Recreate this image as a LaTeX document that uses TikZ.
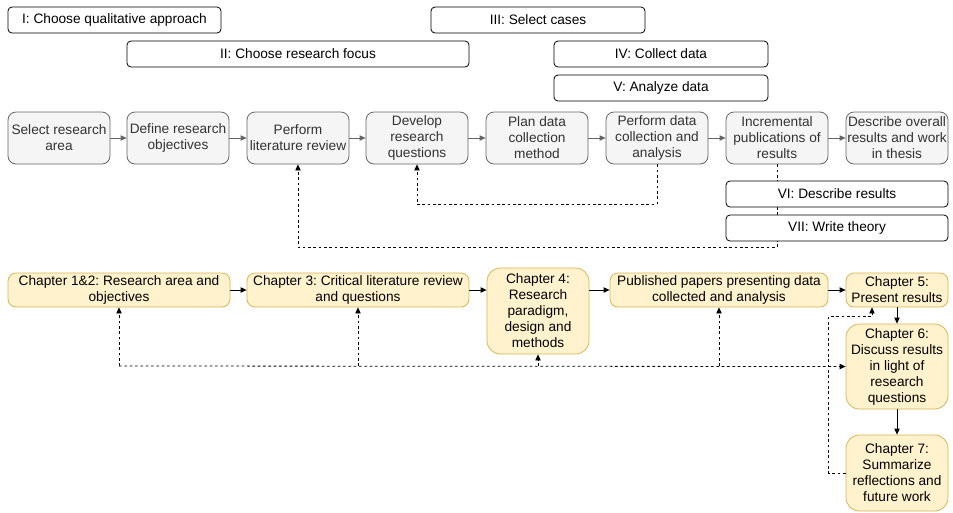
\documentclass[tikz,border=0pt]{standalone}
\usepackage{fontspec}
\setmainfont{Liberation Sans}
\usetikzlibrary{arrows.meta,calc}
\frenchspacing
\definecolor{gfill}{HTML}{F5F5F5}
\definecolor{gline}{HTML}{666666}
\definecolor{gtext}{HTML}{333333}
\definecolor{yfill}{HTML}{FFF2CC}
\definecolor{yline}{HTML}{D6B656}
\newcommand\mybox[7]{%
  \node[#1, minimum width={(#5-#3)*0.75pt}, minimum height={(#6-#4)*0.75pt}]
        (#2) at ({(#3+#5)/2},{(#4+#6)/2}) {#7};}
\tikzset{
  base/.style={draw, inner sep=0pt, align=center, font=\fontsize{10.25}{12}\selectfont\frenchspacing, line width=0.6pt},
  phase/.style={base, fill=white, rounded corners=3pt},
  proc/.style={base, fill=gfill, draw=gline, text=gtext, rounded corners=6pt},
  chap/.style={base, fill=yfill, draw=yline, rounded corners=6pt},
  chapb/.style={base, fill=yfill, draw=yline, rounded corners=10pt},
  garr/.style={draw=gline, line width=0.6pt, -{Triangle[length=4.5pt,width=4pt]}},
  barr/.style={draw=black, line width=0.6pt, -{Triangle[length=4.5pt,width=4pt]}},
  dsh/.style={draw=black, line width=0.6pt, dash pattern=on 2pt off 2pt},
  darr/.style={dsh, -{Triangle[length=4.5pt,width=4pt]}},
}
\begin{document}
\begin{tikzpicture}[x=0.75pt,y=-0.75pt]
\useasboundingbox (0,0) rectangle (953,512);
% phase boxes
\mybox{phase}{t1}{8}{7}{221}{33}{I: Choose qualitative approach}
\mybox{phase}{t2}{127}{41}{469}{67}{II: Choose research focus}
\mybox{phase}{t3}{431}{7}{645}{33}{III: Select cases}
\mybox{phase}{t4}{554}{41}{768}{67}{IV: Collect data}
\mybox{phase}{t5}{554}{75}{768}{101}{V: Analyze data}
% process row
\mybox{proc}{a1}{8}{112}{110}{164}{Select research\\area}
\mybox{proc}{a2}{127}{112}{229}{164}{Define research\\objectives}
\mybox{proc}{a3}{247}{112}{349}{164}{Perform\\literature review}
\mybox{proc}{a4}{366}{112}{468}{164}{Develop\\research\\questions}
\mybox{proc}{a5}{486}{112}{588}{164}{Plan data\\collection\\method}
\mybox{proc}{a6}{606}{112}{708}{164}{Perform data\\collection and\\analysis}
\mybox{proc}{a7}{726}{112}{828}{164}{Incremental\\publications of\\results}
\mybox{proc}{a8}{846}{112}{948}{164}{Describe overall\\results and work\\in thesis}
\foreach \p/\q in {a1/a2,a2/a3,a3/a4,a4/a5,a5/a6,a6/a7,a7/a8}
  \draw[garr] (\p.east) -- (\q.west);
\draw[darr] (a6.south) -- ++(0,40) -| (a4.south);
\draw[darr] (a7.south) -- ++(0,83) -| (a3.south);
\mybox{phase}{t6}{726}{181}{948}{207}{VI: Describe results}
\mybox{phase}{t7}{726}{215}{948}{241}{VII: Write theory}
% chapter row
\mybox{chap}{c12}{8}{273}{230}{307}{Chapter 1\&2: Research area and\\objectives}
\mybox{chap}{c3}{247}{273}{469}{307}{Chapter 3: Critical literature review\\and questions}
\mybox{chapb}{c4}{487}{268}{589}{354}{Chapter 4:\\Research\\paradigm,\\design and\\methods}
\mybox{chap}{pp}{610}{273}{828}{307}{Published papers presenting data\\collected and analysis}
\mybox{chap}{c5}{846}{273}{948}{307}{Chapter 5:\\Present results}
\mybox{chapb}{c6}{846}{324}{948}{409}{Chapter 6:\\Discuss results\\in light of\\research\\questions}
\mybox{chapb}{c7}{846}{435}{948}{511}{Chapter 7:\\Summarize\\reflections and\\future work}
\draw[barr] (c12.east) -- (c3.west);
\draw[barr] (c3.east) -- (c3.east -| c4.west);
\draw[barr] (pp.west -| c4.east) -- (pp.west);
\draw[barr] (pp.east) -- (c5.west);
\draw[barr] (c5.south) -- (c6.north);
\draw[barr] (c6.south) -- (c7.north);
% dashed hub
\coordinate (h1) at (119,366);
\draw[darr] (h1) -- (c6.west);
\draw[darr] (c12.south |- h1) -- (c12.south);
\draw[darr] (c3.south |- h1) -- (c3.south);
\draw[darr] (c4.south |- h1) -- (c4.south);
\draw[darr] (pp.south |- h1) -- (pp.south);
\draw[darr] (c7.west) -- ++(-17,0) |- ($(c5.south)+(-25,9)$) -- ($(c5.south)+(-25,0)$);
\end{tikzpicture}
\end{document}
